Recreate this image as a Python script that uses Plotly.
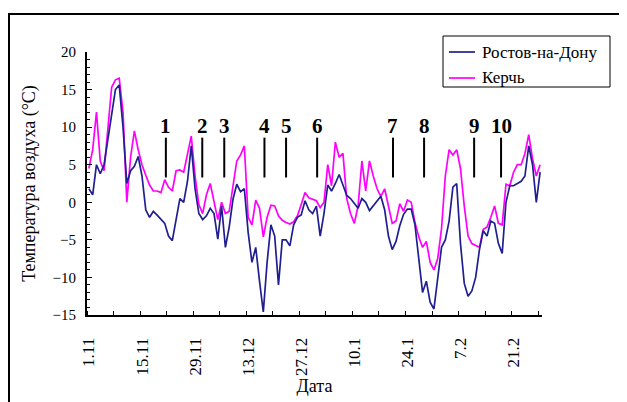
import plotly.graph_objects as go

# ---- data ----
tick_labels = ["1.11", "15.11", "29.11", "13.12", "27.12", "10.1", "24.1", "7.2", "21.2"]

rostov = [
    1.8, 1.0, 5.0, 3.8, 5.0, 8.5, 12.0, 15.0, 15.6, 10.0,
    2.5, 4.2, 4.8, 6.1, 3.5, -1.0, -2.0, -1.2, -1.7, -2.2,
    -2.8, -4.5, -5.1, -2.3, 0.5, 0.0, 2.8, 7.5, 1.8, -1.5,
    -2.3, -1.8, -0.8, -1.5, -4.9, -0.5, -6.0, -3.3, 0.4, 2.4,
    1.4, 1.8, -4.0, -8.0, -6.0, -10.5, -14.6, -8.0, -3.0, -4.5,
    -11.0, -5.0, -5.0, -5.8, -3.0, -2.0, -1.7, 0.2, -1.0, -1.5,
    -0.5, -4.5, -1.5, 2.3, 1.5, 2.5, 3.7, 2.3, 0.9, 0.5,
    -0.2, -0.8, 0.5, 0.0, -1.1, -0.5, 0.2, 0.8, -1.0, -4.5,
    -6.3, -5.2, -3.1, -1.6, -0.9, -0.9, -3.0, -7.5, -12.0, -10.5,
    -13.3, -14.2, -10.0, -6.0, -5.0, -2.5, 2.0, 2.5, -5.5, -10.8,
    -12.5, -11.8, -10.0, -6.3, -3.8, -4.5, -2.5, -2.8, -5.5, -6.8,
    0.0, 2.2, 2.2, 2.5, 2.8, 3.5, 7.5, 5.0, 0.0, 4.0,
]

kerch = [
    4.5, 7.0, 12.0, 5.5, 4.2, 9.5, 15.3, 16.3, 16.5, 12.0,
    0.0, 6.0, 9.5, 7.0, 5.0, 3.6, 2.3, 1.5, 1.5, 1.3,
    3.0, 2.0, 1.5, 4.2, 4.3, 4.0, 6.5, 8.8, 3.5, -0.3,
    -1.5, 1.0, 2.5, 0.0, -2.3, 0.0, -1.5, -1.2, 2.5, 5.5,
    6.3, 7.5, -2.0, -3.0, 0.3, -0.8, -4.6, -2.0, -0.4, -0.5,
    -1.8, -2.4, -2.7, -2.9, -2.6, -1.8, -0.3, 1.3, 0.6, 0.4,
    0.2, -0.7, 0.0, 5.0, 2.2, 8.0, 6.0, 6.5, 0.5, -1.5,
    -2.8, -0.5, 5.5, 1.5, 5.5, 3.5, 1.8, 0.8, 1.8, -0.5,
    -2.8, -2.5, -0.2, -1.2, 0.3, 0.0, -2.7, -4.6, -6.0, -5.2,
    -8.0, -9.0, -7.5, -3.5, 3.5, 7.0, 6.3, 7.0, 4.5, -0.5,
    -4.5, -5.5, -5.7, -6.0, -3.6, -3.3, -2.0, -0.5, -2.8, -3.0,
    2.4, 2.2, 4.0, 5.0, 5.0, 6.5, 9.0, 5.8, 3.5, 5.0,
]

series_names = ["Ростов-на-Дону", "Керчь"]
series_colors = ["#1f1f8f", "#ff00ff"]

event_labels = ["1", "2", "3", "4", "5", "6", "7", "8", "9", "10"]
event_days = [20.3, 29.9, 35.7, 46.3, 52.0, 60.2, 80.2, 88.4, 101.6, 108.7]

# ---- figure ----
days = list(range(len(rostov)))
tick_pos = [14 * i for i in range(len(tick_labels))]
serif = "Liberation Serif, Times New Roman, DejaVu Serif, serif"

OFF = 8                      # page body margin
W, H = 627 - OFF, 402 - OFF
L, T = 87 - OFF, 52 - OFF
R = W - (542 - OFF)
B = H - (315 - OFF)
pw, ph = W - L - R, H - T - B


def px(xpage):
    return (xpage - OFF - L) / pw


def py(ypage):
    return (H - B - (ypage - OFF)) / ph


fig = go.Figure()
fig.add_trace(go.Scatter(x=days, y=kerch, mode="lines", name=series_names[1],
                         line=dict(color=series_colors[1], width=1.7), showlegend=False))
fig.add_trace(go.Scatter(x=days, y=rostov, mode="lines", name=series_names[0],
                         line=dict(color=series_colors[0], width=1.7), showlegend=False))

shapes = []
annotations = []
for lab, d in zip(event_labels, event_days):
    shapes.append(dict(type="line", xref="x", yref="y", x0=d, x1=d, y0=3.3, y1=8.6,
                       line=dict(color="black", width=2)))
    annotations.append(dict(xref="x", yref="y", x=d, y=10.2, text="<b>" + lab + "</b>",
                            showarrow=False, xanchor="center", yanchor="middle",
                            font=dict(family=serif, size=21, color="black")))

# outer frame
shapes.append(dict(type="rect", xref="paper", yref="paper", x0=px(9), x1=px(621),
                   y0=py(430), y1=py(14), line=dict(color="black", width=2),
                   fillcolor="rgba(0,0,0,0)", layer="below"))

# legend box (drawn by hand so it does not push the margins)
shapes.append(dict(type="rect", xref="paper", yref="paper", x0=px(443), x1=px(610),
                   y0=py(87), y1=py(36), line=dict(color="black", width=1),
                   fillcolor="white"))
for i, (nm, col) in enumerate(zip(series_names, series_colors)):
    yrow = 52 + 26 * i
    shapes.append(dict(type="line", xref="paper", yref="paper", x0=px(449), x1=px(475),
                       y0=py(yrow), y1=py(yrow), line=dict(color=col, width=1.7)))
    annotations.append(dict(xref="paper", yref="paper", x=px(480), y=py(yrow), text=nm,
                            showarrow=False, xanchor="left", yanchor="middle",
                            font=dict(family=serif, size=17, color="black")))

fig.update_layout(
    width=W, height=H,
    margin=dict(l=L, r=R, t=T, b=B, pad=0),
    paper_bgcolor="white", plot_bgcolor="white",
    font=dict(family=serif, size=14, color="black"),
    showlegend=False,
    shapes=shapes,
    annotations=annotations,
    xaxis=dict(
        range=[-0.5, 119.5], automargin=False,
        tickmode="array", tickvals=tick_pos, ticktext=tick_labels,
        tickangle=-90, ticks="", ticklabelstandoff=14,
        tickfont=dict(family=serif, size=17, color="black"),
        minor=dict(tickmode="linear", tick0=-0.5, dtick=7, ticks="inside",
                   ticklen=4, tickcolor="black", tickwidth=1, showgrid=False),
        showline=True, linecolor="black", linewidth=2,
        showgrid=False, zeroline=False,
        title=dict(text="Дата", font=dict(family=serif, size=18, color="black"),
                   standoff=2),
    ),
    yaxis=dict(
        range=[-15, 20], automargin=False,
        tickmode="linear", tick0=-15, dtick=5,
        ticks="inside", ticklen=5, tickcolor="black", tickwidth=1,
        ticklabelstandoff=6,
        tickfont=dict(family=serif, size=15, color="black"),
        minor=dict(dtick=1, ticks="inside", ticklen=3, tickcolor="black",
                   tickwidth=1, showgrid=False),
        showline=True, linecolor="black", linewidth=2,
        showgrid=False, zeroline=False,
        title=dict(text="Температура воздуха (°C)",
                   font=dict(family=serif, size=18, color="black"), standoff=12),
    ),
)

fig.write_html("out.html")
